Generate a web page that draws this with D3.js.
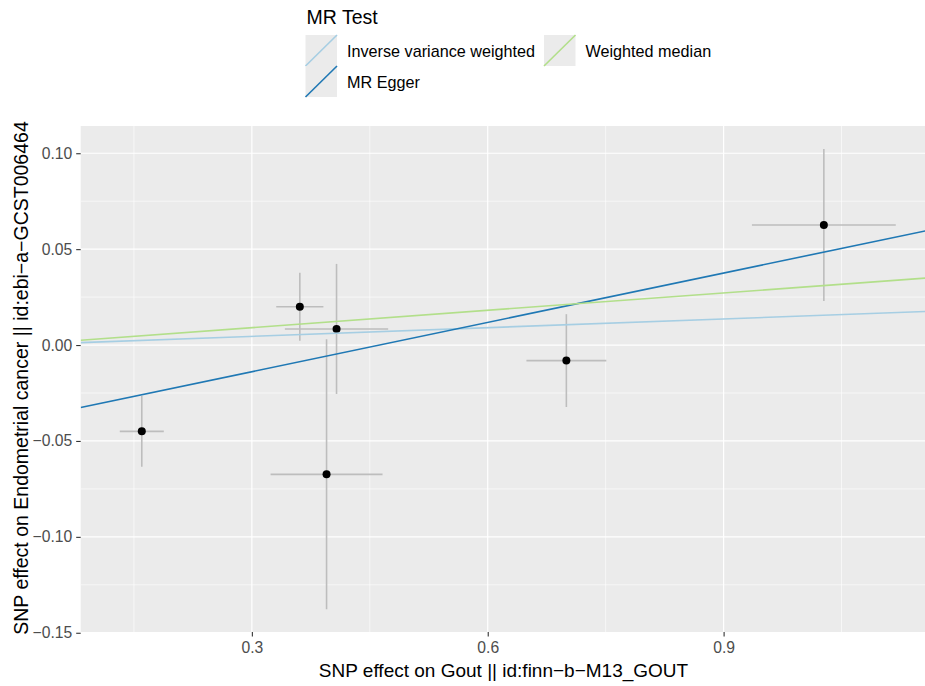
<!DOCTYPE html>
<html>
<head>
<meta charset="utf-8">
<script src="https://cdn.jsdelivr.net/npm/d3@7"></script>
<style>
  body { margin: 0; background: #ffffff; }
  text { font-family: "Liberation Sans", Arial, sans-serif; }
</style>
</head>
<body>
<svg id="chart" width="925" height="686"></svg>
<script>
// ---- data ----
const snpBetaExposure = [0.160, 0.395, 0.361, 0.4077, 0.700, 1.0275];
const snpSeExposure   = [0.028, 0.0712, 0.030, 0.0657, 0.0508, 0.0915];
const snpBetaOutcome  = [-0.045, -0.0674, 0.020, 0.0084, -0.0081, 0.0626];
const snpSeOutcome    = [0.0185, 0.0704, 0.0177, 0.0339, 0.0242, 0.0396];

const methods    = ["Inverse variance weighted", "MR Egger", "Weighted median"];
const slopes     = [0.0151, 0.0857, 0.0302];
const intercepts = [0, -0.0396, 0];
const methodColors = ["#a6cee3", "#1f78b4", "#b2df8a"];

const xTicks = [0.3, 0.6, 0.9];
const xTickLabels = ["0.3", "0.6", "0.9"];
const xMinor = [0.15, 0.45, 0.75, 1.05];
const yTicks = [0.10, 0.05, 0.00, -0.05, -0.10, -0.15];
const yTickLabels = ["0.10", "0.05", "0.00", "\u22120.05", "\u22120.10", "\u22120.15"];
const yMinor = [0.075, 0.025, -0.025, -0.075, -0.125];

const xTitle = "SNP effect on Gout || id:finn\u2212b\u2212M13_GOUT";
const yTitle = "SNP effect on Endometrial cancer || id:ebi\u2212a\u2212GCST006464";
const legendTitle = "MR Test";

// ---- layout ----
const svg = d3.select("#chart");
const P = { left: 80.7, right: 934, top: 126, bottom: 632 };
const x = d3.scaleLinear().domain([0.0823, 1.1676]).range([P.left, P.right]);
const y = d3.scaleLinear().domain([-0.1496, 0.1142]).range([P.bottom, P.top]);

svg.append("rect").attr("width", 925).attr("height", 686).attr("fill", "#ffffff");

svg.append("defs").append("clipPath").attr("id", "pclip")
  .append("rect").attr("x", P.left).attr("y", P.top)
  .attr("width", P.right - P.left).attr("height", P.bottom - P.top);

const panel = svg.append("g");
panel.append("rect").attr("x", P.left).attr("y", P.top)
  .attr("width", P.right - P.left).attr("height", P.bottom - P.top)
  .attr("fill", "#ebebeb");

// minor grid
panel.selectAll(".xmin").data(xMinor).join("line")
  .attr("x1", d => x(d)).attr("x2", d => x(d))
  .attr("y1", P.top).attr("y2", P.bottom)
  .attr("stroke", "#ffffff").attr("stroke-width", 0.6);
panel.selectAll(".ymin").data(yMinor).join("line")
  .attr("y1", d => y(d)).attr("y2", d => y(d))
  .attr("x1", P.left).attr("x2", P.right)
  .attr("stroke", "#ffffff").attr("stroke-width", 0.6);
// major grid
panel.selectAll(".xmaj").data(xTicks).join("line")
  .attr("x1", d => x(d)).attr("x2", d => x(d))
  .attr("y1", P.top).attr("y2", P.bottom)
  .attr("stroke", "#ffffff").attr("stroke-width", 1.2);
panel.selectAll(".ymaj").data(yTicks).join("line")
  .attr("y1", d => y(d)).attr("y2", d => y(d))
  .attr("x1", P.left).attr("x2", P.right)
  .attr("stroke", "#ffffff").attr("stroke-width", 1.2);

const plot = svg.append("g").attr("clip-path", "url(#pclip)");
const idx = d3.range(snpBetaExposure.length);

// error bars
plot.selectAll(".ev").data(idx).join("line")
  .attr("x1", i => x(snpBetaExposure[i])).attr("x2", i => x(snpBetaExposure[i]))
  .attr("y1", i => y(snpBetaOutcome[i] - snpSeOutcome[i]))
  .attr("y2", i => y(snpBetaOutcome[i] + snpSeOutcome[i]))
  .attr("stroke", "#bdbdbd").attr("stroke-width", 1.6);
plot.selectAll(".eh").data(idx).join("line")
  .attr("y1", i => y(snpBetaOutcome[i])).attr("y2", i => y(snpBetaOutcome[i]))
  .attr("x1", i => x(snpBetaExposure[i] - snpSeExposure[i]))
  .attr("x2", i => x(snpBetaExposure[i] + snpSeExposure[i]))
  .attr("stroke", "#bdbdbd").attr("stroke-width", 1.6);

// points
plot.selectAll(".pt").data(idx).join("circle")
  .attr("cx", i => x(snpBetaExposure[i])).attr("cy", i => y(snpBetaOutcome[i]))
  .attr("r", 4).attr("fill", "#000000");

// regression lines
const xd = x.domain();
plot.selectAll(".ml").data(d3.range(methods.length)).join("line")
  .attr("x1", x(xd[0])).attr("x2", x(xd[1]))
  .attr("y1", m => y(intercepts[m] + slopes[m] * xd[0]))
  .attr("y2", m => y(intercepts[m] + slopes[m] * xd[1]))
  .attr("stroke", m => methodColors[m]).attr("stroke-width", 1.6);

// axes
const xAxis = d3.axisBottom(x).tickValues(xTicks)
  .tickFormat((d, i) => xTickLabels[i]).tickSize(4.5).tickPadding(5.5);
const gx = svg.append("g").attr("transform", `translate(0,${P.bottom})`).call(xAxis);
gx.select(".domain").remove();
gx.selectAll(".tick line").attr("stroke", "#333333").attr("stroke-width", 1.1);
gx.selectAll(".tick text").attr("fill", "#4d4d4d").style("font-size", "15.7px")
  .style("font-family", "Liberation Sans, Arial, sans-serif");

const yAxis = d3.axisLeft(y).tickValues(yTicks)
  .tickFormat((d, i) => yTickLabels[i]).tickSize(4.5).tickPadding(3.9);
const gy = svg.append("g").attr("transform", `translate(${P.left},0)`).call(yAxis);
gy.select(".domain").remove();
gy.selectAll(".tick line").attr("stroke", "#333333").attr("stroke-width", 1.1);
gy.selectAll(".tick text").attr("fill", "#4d4d4d").style("font-size", "15.7px")
  .style("font-family", "Liberation Sans, Arial, sans-serif");

// axis titles
svg.append("text").attr("x", 503.5).attr("y", 677)
  .attr("text-anchor", "middle").attr("fill", "#000000")
  .style("font-size", "19px").text(xTitle);
svg.append("text")
  .attr("transform", `translate(27.5,${(P.top + P.bottom) / 2 - 1}) rotate(-90)`)
  .attr("text-anchor", "middle").attr("fill", "#000000")
  .style("font-size", "19.5px").text(yTitle);

// legend
const lg = svg.append("g");
lg.append("text").attr("x", 306.5).attr("y", 23.5).attr("fill", "#000000")
  .style("font-size", "19.5px").text(legendTitle);
const keyPos = [[305.5, 35], [305.5, 66], [544, 35]];
const keySize = 31.5;
const keys = lg.selectAll(".key").data(d3.range(methods.length)).join("g")
  .attr("transform", m => `translate(${keyPos[m][0]},${keyPos[m][1]})`);
keys.append("rect").attr("width", keySize).attr("height", keySize - 0.5).attr("fill", "#ebebeb");
keys.append("line")
  .attr("x1", 0).attr("y1", keySize - 0.5).attr("x2", keySize).attr("y2", 0)
  .attr("stroke", m => methodColors[m]).attr("stroke-width", 1.6);
keys.append("text").attr("x", keySize + 10).attr("y", keySize / 2 + 6)
  .attr("fill", "#000000").style("font-size", "16.2px").text(m => methods[m]);
</script>
</body>
</html>
